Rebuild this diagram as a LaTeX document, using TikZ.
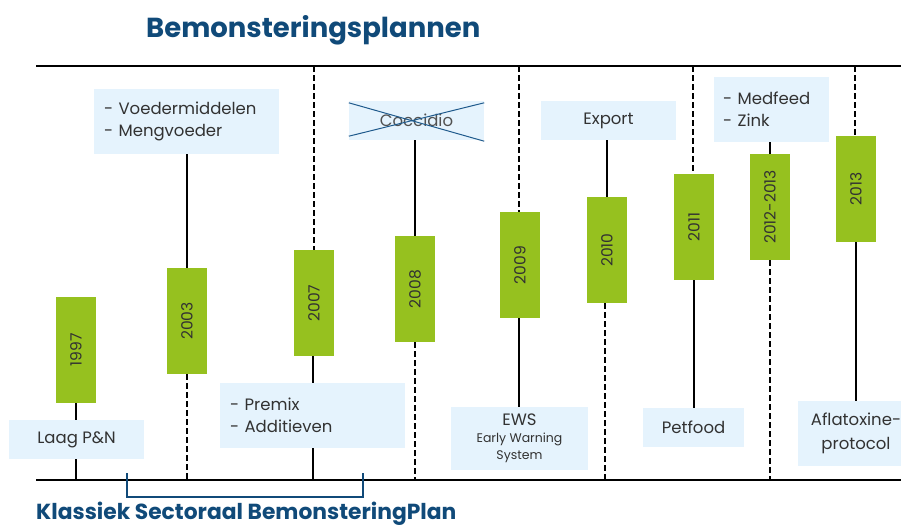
\documentclass[tikz,border=0pt]{standalone}
\usepackage{fontspec}
\setmainfont{Poppins}
\definecolor{ygreen}{RGB}{150,193,31}
\definecolor{lblue}{RGB}{229,243,253}
\definecolor{dblue}{RGB}{16,74,121}
\definecolor{txt}{RGB}{50,50,50}
\definecolor{crossc}{RGB}{31,90,140}
\begin{document}
\begin{tikzpicture}[x=1pt,y=-1pt,
  yearbox/.style={fill=ygreen, minimum width=40pt, minimum height=106pt, inner sep=0pt, text=txt, font=\fontsize{15.5}{18}\selectfont},
  infobox/.style={fill=lblue, inner sep=0pt, text=txt, font=\fontsize{16.5}{22}\selectfont, align=center},
  listbox/.style={infobox, align=left, text width=#1, inner xsep=10pt},
  axis/.style={line width=2pt, black},
  solidv/.style={line width=2pt, black},
  dashv/.style={line width=2pt, black, dash pattern=on 6pt off 3pt},
  xline/.style={line width=1pt, crossc},
  bracket/.style={line width=2pt, dblue},
  title/.style={text=dblue, inner sep=0pt, font=\fontsize{27.5}{30}\selectfont\bfseries},
  subtitle/.style={text=dblue, inner sep=0pt, font=\fontsize{21.8}{24}\selectfont\bfseries}
]
\useasboundingbox (0,0) rectangle (901,525);
\clip (0,0) rectangle (901,525);

% title
\node[title, anchor=base west] (ttl) at (146,37) {Bemonsteringsplannen};

% axes
\coordinate (tl) at (36,66);
\coordinate (tr) at (901,66);
\coordinate (bl) at (36,480);
\coordinate (br) at (901,480);

% year boxes
\node[yearbox] (y1997) at (76,350) {\rotatebox{90}{1997}};
\node[yearbox] (y2003) at (187,321) {\rotatebox{90}{2003}};
\node[yearbox] (y2007) at (314,303) {\rotatebox{90}{2007}};
\node[yearbox] (y2008) at (415,289) {\rotatebox{90}{2008}};
\node[yearbox] (y2009) at (520,265) {\rotatebox{90}{2009}};
\node[yearbox] (y2010) at (607,250) {\rotatebox{90}{2010}};
\node[yearbox] (y2011) at (694,227) {\rotatebox{90}{2011}};
\node[yearbox] (y2012) at (770,207) {\rotatebox{90}{2012-2013}};
\node[yearbox] (y2013) at (856,189) {\rotatebox{90}{2013}};

% info boxes
\node[listbox=165pt, minimum height=65pt] (voeder) at (186.5,121.5) {- Voedermiddelen\\- Mengvoeder};
\node[infobox, minimum width=135pt, minimum height=39pt, text=txt!85] (cocc) at (416.5,120.5) {Coccidio};
\node[infobox, minimum width=135pt, minimum height=39pt] (export) at (608.5,120.5) {Export};
\node[listbox=97pt, minimum height=65pt, inner xsep=9pt] (med) at (771.5,109.5) {- Medfeed\\- Zink};
\node[infobox, minimum width=135pt, minimum height=39pt] (laag) at (76.5,439.5) {Laag P\&N};
\node[listbox=165pt, minimum height=65pt] (premix) at (312.5,415.5) {- Premix\\- Additieven};
\node[infobox, minimum width=137pt, minimum height=63pt, font=\fontsize{16.5}{19}\selectfont] (ews) at (519.5,438.5) {EWS\\[-2pt]{\fontsize{12.5}{18}\selectfont Early Warning}\\[-2pt]{\fontsize{12.5}{18}\selectfont System}};
\node[infobox, minimum width=101pt, minimum height=39pt] (pet) at (693.5,427.5) {Petfood};
\node[infobox, minimum width=116pt, minimum height=65pt, font=\fontsize{16.5}{24}\selectfont] (afla) at (856,433.5) {Aflatoxine-\\protocol};

% cross over Coccidio
\draw[xline] ([yshift=-2pt]cocc.north west) -- ([yshift=-1pt]cocc.south east);
\draw[xline] ([yshift=4pt]cocc.south west) -- ([yshift=-2pt]cocc.north east);

% vertical connectors
\draw[solidv] (y1997.south) -- (y1997.south |- laag.north);
\draw[solidv] (y1997.south |- laag.south) -- (y1997.south |- bl);

\draw[solidv] (y2003.north) -- (y2003.north |- voeder.south);
\draw[dashv] (y2003.south) -- (y2003.south |- bl);

\draw[dashv] (y2007.north |- tl) -- (y2007.north);
\draw[solidv] ([xshift=-1.5pt]y2007.south) -- ([xshift=-1.5pt]y2007.south |- premix.north);
\draw[solidv] ([xshift=-1.5pt]y2007.south |- premix.south) -- ([xshift=-1.5pt]y2007.south |- bl);

\draw[solidv] (y2008.north) -- (y2008.north |- cocc.south);
\draw[dashv] (y2008.south) -- (y2008.south |- bl);

\draw[dashv] ([xshift=-1pt]y2009.north |- tl) -- ([xshift=-1pt]y2009.north);
\draw[solidv] ([xshift=-1pt]y2009.south) -- ([xshift=-1pt]y2009.south |- ews.north);

\draw[solidv] (y2010.north) -- (y2010.north |- export.south);
\draw[dashv] ([xshift=-2.5pt]y2010.south) -- ([xshift=-2.5pt]y2010.south |- bl);

\draw[dashv] ([xshift=-1pt]y2011.north |- tl) -- ([xshift=-1pt]y2011.north);
\draw[solidv] (y2011.south) -- (y2011.south |- pet.north);

\draw[solidv] (y2012.north) -- (y2012.north |- med.south);
\draw[dashv] (y2012.south) -- (y2012.south |- bl);

\draw[dashv] ([xshift=-1pt]y2013.north |- tl) -- ([xshift=-1pt]y2013.north);
\draw[solidv] (y2013.south) -- (y2013.south |- afla.north);

% axes on top
\draw[axis] (tl) -- (tr);
\draw[axis] (bl) -- (br);

% bracket
\coordinate (b1) at (127,473);
\coordinate (b2) at (127,497);
\coordinate (b3) at (363,497);
\coordinate (b4) at (363,473);
\draw[bracket] (b1) -- (b2) -- (b3) -- (b4);

\node[subtitle, anchor=base west] (sub) at (36,519) {Klassiek Sectoraal BemonsteringPlan};
\end{tikzpicture}
\end{document}
